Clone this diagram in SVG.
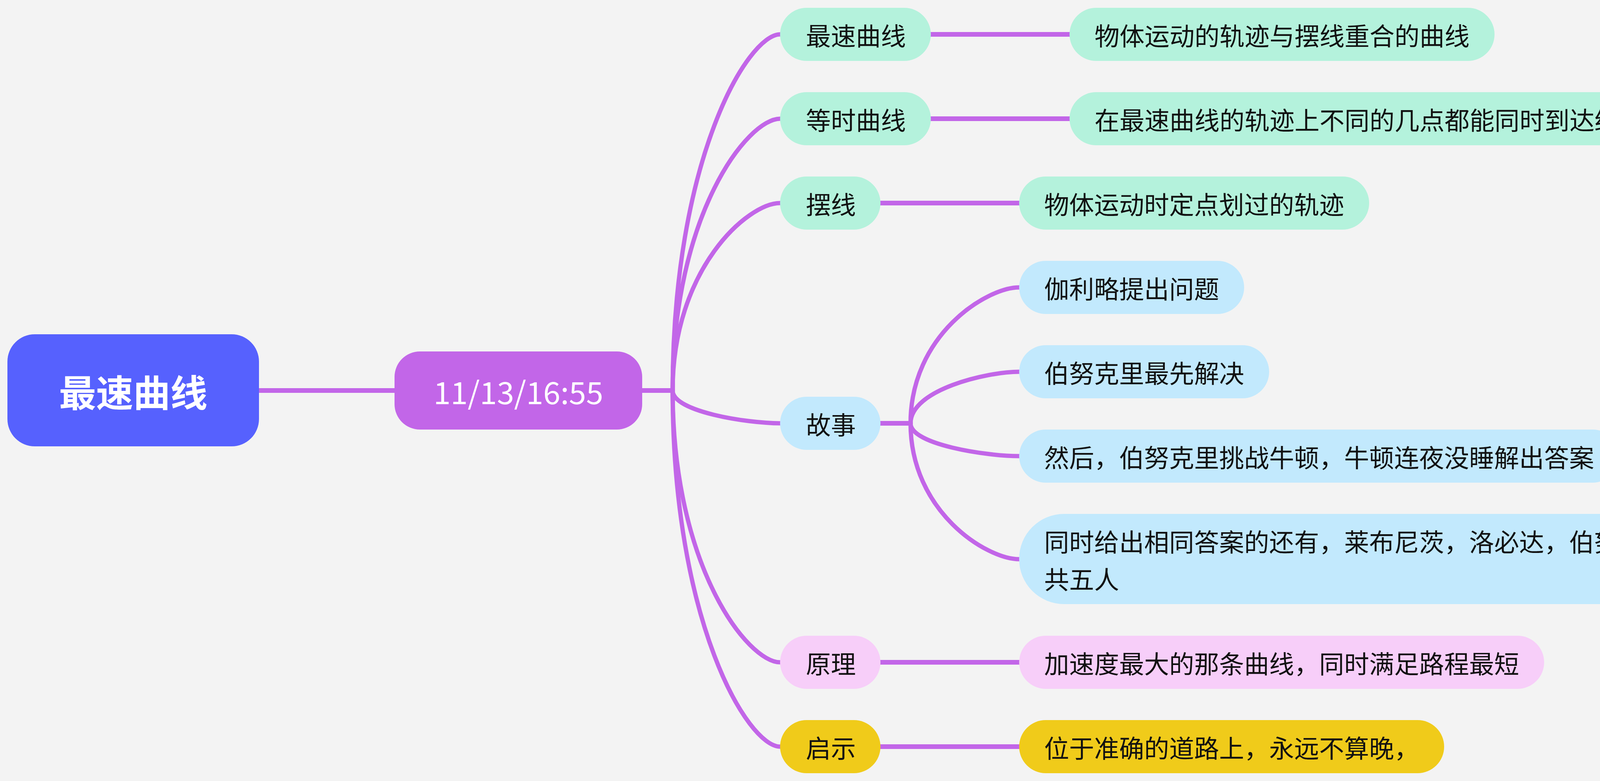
<svg xmlns="http://www.w3.org/2000/svg" width="4999" height="2000" viewBox="0 0 4999 2000">
<style>
.t{font-family:"Noto Sans CJK SC","Noto Sans",sans-serif;font-size:64px;fill:#111;dominant-baseline:central}
.ln{fill:none;stroke:#C266E8;stroke-linecap:round}
.h{stroke-width:12}
.c{stroke-width:11}
.mint{fill:#B4F2DC}
.blue{fill:#C2E9FD}
.pink{fill:#F7CEF9}
.yel{fill:#F0CB1A}
</style>
<rect width="4999" height="2000" fill="#F3F3F3"/>
<g id="connectors">
<path class="ln h" d="M663 1000H1010M1644 1000H1722"/>
<path class="ln c" d="M1722 1000C1722 407.2 1914.5 88 1997 88"/>
<path class="ln c" d="M1722 1000C1722 547.6 1914.5 304 1997 304"/>
<path class="ln c" d="M1722 1000C1722 688 1914.5 520 1997 520"/>
<path class="ln c" d="M1722 1000C1722 1054.6 1914.5 1084 1997 1084"/>
<path class="ln c" d="M1722 1000C1722 1452.4 1914.5 1696 1997 1696"/>
<path class="ln c" d="M1722 1000C1722 1592.8 1914.5 1912 1997 1912"/>
<path class="ln h" d="M2383 88H2738M2383 304H2738M2254 520H2609M2254 1696H2609M2254 1912H2609M2254 1084H2331"/>
<path class="ln c" d="M2331 1084C2331 857.8 2525.6 736 2609 736"/>
<path class="ln c" d="M2331 1084C2331 998.2 2525.6 952 2609 952"/>
<path class="ln c" d="M2331 1084C2331 1138.6 2525.6 1168 2609 1168"/>
<path class="ln c" d="M2331 1084C2331 1310.2 2525.6 1432 2609 1432"/>
</g>
<g id="root">
<rect x="19" y="856" width="644" height="287" rx="70" fill="#5661FE"/>
<text x="341" y="1000" text-anchor="middle" style="font-family:'Noto Sans CJK SC',sans-serif;font-size:95px;font-weight:bold;fill:#fff;dominant-baseline:central">最速曲线</text>
</g>
<g id="time">
<rect x="1010" y="900" width="634" height="200" rx="65" fill="#C266E8"/>
<text x="1327" y="1000" text-anchor="middle" style="font-family:'Noto Sans CJK SC','Noto Sans',sans-serif;font-size:79px;fill:#fff;dominant-baseline:central">11/13/16:55</text>
</g>
<g id="n-zuisu">
<rect class="mint" x="1997" y="20" width="386" height="136" rx="68"/>
<text class="t" x="2063" y="88">最速曲线</text>
</g>
<g id="n-zuisu-d">
<rect class="mint" x="2738" y="20" width="1088" height="136" rx="68"/>
<text class="t" x="2802" y="88">物体运动的轨迹与摆线重合的曲线</text>
</g>
<g id="n-dengshi">
<rect class="mint" x="1997" y="236" width="386" height="136" rx="68"/>
<text class="t" x="2063" y="304">等时曲线</text>
</g>
<g id="n-dengshi-d">
<rect class="mint" x="2738" y="236" width="1536" height="136" rx="68"/>
<text class="t" x="2802" y="304">在最速曲线的轨迹上不同的几点都能同时到达终点</text>
</g>
<g id="n-baixian">
<rect class="mint" x="1997" y="452" width="257" height="136" rx="68"/>
<text class="t" x="2063" y="520">摆线</text>
</g>
<g id="n-baixian-d">
<rect class="mint" x="2609" y="452" width="896" height="136" rx="68"/>
<text class="t" x="2673" y="520">物体运动时定点划过的轨迹</text>
</g>
<g id="n-gushi">
<rect class="blue" x="1997" y="1016" width="257" height="136" rx="68"/>
<text class="t" x="2063" y="1084">故事</text>
</g>
<g id="n-gushi-1">
<rect class="blue" x="2609" y="668" width="576" height="136" rx="68"/>
<text class="t" x="2673" y="736">伽利略提出问题</text>
</g>
<g id="n-gushi-2">
<rect class="blue" x="2609" y="884" width="640" height="136" rx="68"/>
<text class="t" x="2673" y="952">伯努克里最先解决</text>
</g>
<g id="n-gushi-3">
<rect class="blue" x="2609" y="1100" width="1536" height="136" rx="68"/>
<text class="t" x="2673" y="1168">然后，伯努克里挑战牛顿，牛顿连夜没睡解出答案</text>
</g>
<g id="n-gushi-4">
<rect class="blue" x="2609" y="1316" width="2370" height="231" rx="115"/>
<text class="t" x="2673" y="1384">同时给出相同答案的还有，莱布尼茨，洛必达，伯努克里兄弟，加上牛顿和自己</text>
<text class="t" x="2673" y="1480">共五人</text>
</g>
<g id="n-yuanli">
<rect class="pink" x="1997" y="1628" width="257" height="136" rx="68"/>
<text class="t" x="2063" y="1696">原理</text>
</g>
<g id="n-yuanli-d">
<rect class="pink" x="2609" y="1628" width="1344" height="136" rx="68"/>
<text class="t" x="2673" y="1696">加速度最大的那条曲线，同时满足路程最短</text>
</g>
<g id="n-qishi">
<rect class="yel" x="1997" y="1844" width="257" height="136" rx="68"/>
<text class="t" x="2063" y="1912">启示</text>
</g>
<g id="n-qishi-d">
<rect class="yel" x="2609" y="1844" width="1088" height="136" rx="68"/>
<text class="t" x="2673" y="1912">位于准确的道路上，永远不算晚，</text>
</g>
<text x="4983" y="1989" text-anchor="end" style="font-family:'Liberation Sans','Noto Sans CJK SC',sans-serif;font-size:20px;fill:#9a9a9a">CSDN @快乐的飞起</text>
</svg>
